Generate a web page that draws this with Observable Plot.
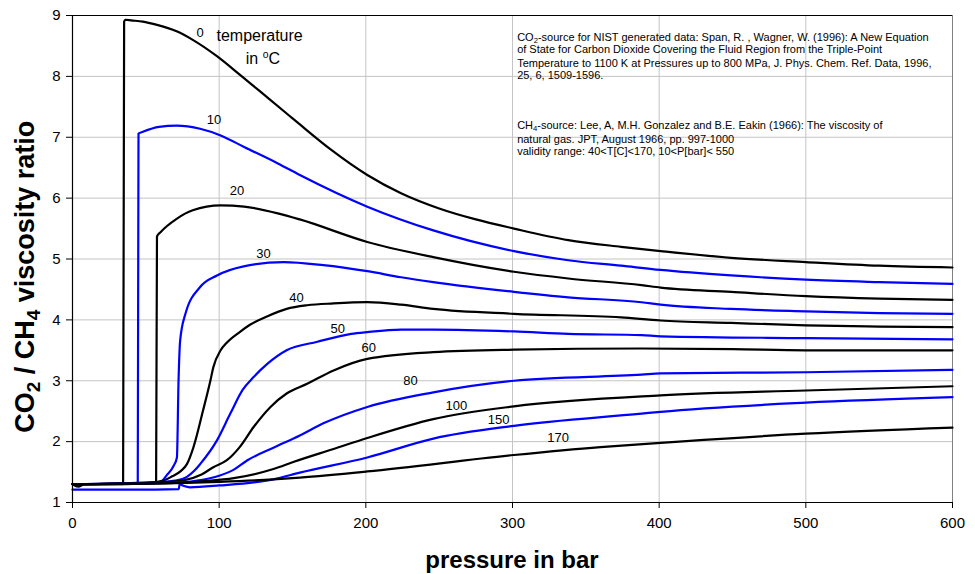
<!DOCTYPE html>
<html>
<head>
<meta charset="utf-8">
<script src="https://cdn.jsdelivr.net/npm/d3@7"></script>
<script src="https://cdn.jsdelivr.net/npm/@observablehq/plot@0.6"></script>
<style>
  html, body { margin: 0; padding: 0; background: #fff; }
  #chart { width: 975px; height: 574px; }
</style>
</head>
<body>
<div id="chart"></div>
<script>
// ---------- data (pressure in bar, CO2/CH4 viscosity ratio) ----------
const pressureTicks = [0, 100, 200, 300, 400, 500, 600];
const ratioTicks = [1, 2, 3, 4, 5, 6, 7, 8, 9];
const temperatures = [0, 10, 20, 30, 40, 50, 60, 80, 100, 150, 170];

const curve_0 = [[0,1.30],[20,1.30],[34.5,1.30],[35.2,8.90],[36,8.93],[40,8.92],[48,8.90],[57,8.85],[71,8.74],[82,8.60],[98,8.34],[114,8.03],[133,7.65],[149,7.33],[155,7.21],[176,6.80],[201,6.38],[224,6.08],[250,5.83],[275,5.65],[301,5.50],[338,5.31],[374,5.20],[401,5.13],[449,5.02],[500,4.95],[550,4.89],[600,4.86]];
const curve_10 = [[0,1.30],[30,1.30],[44.5,1.31],[45,7.06],[48,7.09],[59,7.17],[71,7.19],[87,7.14],[101,7.03],[117,6.84],[140,6.57],[155,6.38],[201,5.86],[246,5.47],[301,5.13],[338,4.98],[374,4.89],[401,4.82],[449,4.73],[500,4.66],[550,4.62],[600,4.59]];
const curve_20 = [[0,1.30],[40,1.31],[57,1.33],[57.6,5.37],[60,5.44],[71,5.66],[82,5.80],[101,5.88],[117,5.86],[140,5.75],[155,5.65],[201,5.28],[246,5.03],[301,4.79],[338,4.68],[388,4.57],[401,4.53],[449,4.46],[500,4.39],[550,4.35],[600,4.33]];
const curve_30 = [[0,1.30],[45,1.31],[60,1.34],[64.3,1.45],[68.9,1.60],[71.2,1.74],[72.3,3.00],[73.4,3.66],[77,4.10],[87,4.54],[98.5,4.73],[116.7,4.88],[144,4.95],[171,4.90],[201,4.80],[224,4.70],[246,4.62],[301,4.46],[338,4.37],[388,4.29],[401,4.25],[449,4.18],[500,4.14],[550,4.11],[600,4.10]];
const curve_40 = [[0,1.30],[50,1.32],[62,1.36],[68,1.43],[74,1.52],[78,1.63],[82.5,1.91],[89,2.51],[94,3.00],[96,3.22],[101,3.50],[105,3.62],[114,3.80],[121,3.92],[133,4.06],[146,4.18],[160,4.24],[178,4.27],[201,4.29],[224,4.25],[246,4.18],[301,4.10],[374,4.04],[401,3.99],[449,3.95],[500,3.91],[550,3.89],[600,3.88]];
const curve_50 = [[0,1.30],[55,1.33],[70,1.36],[78,1.42],[83,1.52],[87,1.63],[98.5,2.02],[107.6,2.46],[116,2.85],[123.5,3.06],[133,3.28],[146,3.50],[167,3.64],[190,3.77],[201,3.80],[224,3.84],[246,3.84],[301,3.81],[338,3.77],[388,3.75],[401,3.73],[500,3.70],[600,3.68]];
const curve_60 = [[0,1.30],[60,1.33],[75,1.36],[88,1.46],[96,1.58],[105,1.69],[114,1.91],[123.5,2.24],[135,2.57],[146,2.79],[160,2.95],[178,3.17],[201,3.36],[246,3.47],[301,3.51],[388,3.53],[450,3.52],[500,3.50],[600,3.50]];
const curve_80 = [[0,1.30],[65,1.32],[85,1.36],[100,1.44],[110,1.54],[119,1.69],[137,1.90],[155,2.10],[171,2.30],[201,2.57],[246,2.81],[301,3.00],[388,3.10],[401,3.12],[500,3.14],[600,3.18]];
const curve_100 = [[0,1.30],[70,1.32],[90,1.35],[110,1.40],[137,1.55],[151,1.67],[178,1.88],[201,2.06],[246,2.37],[301,2.58],[401,2.76],[500,2.84],[600,2.91]];
const curve_150 = [[0,1.21],[40,1.21],[72.5,1.22],[73,1.30],[76,1.27],[80,1.25],[100,1.28],[137,1.38],[155,1.49],[201,1.74],[246,2.05],[301,2.26],[388,2.46],[401,2.49],[500,2.64],[600,2.73]];
const curve_170 = [[0,1.30],[4,1.26],[8,1.30],[50,1.31],[100,1.34],[137,1.38],[155,1.41],[201,1.51],[301,1.78],[360,1.91],[401,1.98],[500,2.13],[600,2.23]];

const curves = [curve_0, curve_10, curve_20, curve_30, curve_40, curve_50, curve_60, curve_80, curve_100, curve_150, curve_170];

// curve label anchors (pressure, ratio)
const labelPressure = [87, 96.4, 112.2, 130.3, 152.7, 180.9, 202, 230.5, 261.7, 290.6, 331.1];
const labelRatio = [8.71, 7.29, 6.12, 5.09, 4.37, 3.86, 3.54, 3.00, 2.58, 2.36, 2.07];

const noteLines = [
  [["CO"], ["2", "sub"], ["-source for NIST generated data: Span, R. , Wagner, W. (1996): A New Equation"]],
  [["of State for Carbon Dioxide Covering the Fluid Region from the Triple-Point"]],
  [["Temperature to 1100 K at Pressures up to 800 MPa, J. Phys. Chem. Ref. Data, 1996,"]],
  [["25, 6, 1509-1596."]],
  [["CH"], ["4", "sub"], ["-source: Lee, A, M.H. Gonzalez and B.E. Eakin (1966): The viscosity of"]],
  [["natural gas. JPT, August 1966, pp. 997-1000"]],
  [["validity range: 40<T[C]<170, 10<P[bar]< 550"]]
];
const noteRatio = [8.58, 8.37, 8.15, 7.945, 7.13, 6.89, 6.70]; // baseline positions
const notePressure = 303.5;

// ---------- chart ----------
const FONT = "'Liberation Sans', Arial, Helvetica, sans-serif";
const BLUE = "#0000ff";
const BLACK = "#000000";

const labelRows = temperatures.map((t, i) => ({t: String(t), p: labelPressure[i], r: labelRatio[i]}));

const plot = Plot.plot({
  width: 975,
  height: 574,
  marginLeft: 72,
  marginRight: 23,
  marginTop: 15,
  marginBottom: 72,
  style: {fontFamily: FONT, background: "#fff", color: "#000", overflow: "visible"},
  x: {domain: [0, 600]},
  y: {domain: [1, 9]},
  marks: [
    Plot.ruleX(pressureTicks, {stroke: "#c4c4c4", strokeWidth: 1}),
    Plot.ruleY(ratioTicks, {stroke: "#c4c4c4", strokeWidth: 1}),
    Plot.ruleX([600], {stroke: "#808080", strokeWidth: 1}),
    Plot.ruleY([9], {stroke: BLACK, strokeWidth: 1}),
    ...curves.map((c, i) => Plot.line(c, {
      x: d => d[0], y: d => d[1],
      stroke: i % 2 ? BLUE : BLACK,
      strokeWidth: 2.2,
      curve: "monotone-x"
    })),
    Plot.ruleX([0], {stroke: BLACK, strokeWidth: 1.2}),
    Plot.ruleY([1], {stroke: BLACK, strokeWidth: 1.2}),
    Plot.axisX({ticks: pressureTicks, tickSize: 6, tickPadding: 9, fontSize: 15, label: null, tickFormat: d => String(d)}),
    Plot.axisY({ticks: ratioTicks, tickSize: 6, tickPadding: 6, fontSize: 15, label: null, tickFormat: d => String(d)}),
    Plot.text(labelRows, {x: "p", y: "r", text: "t", fontSize: 13, fill: BLACK, lineAnchor: "middle"})
  ]
});

document.getElementById("chart").appendChild(plot);

// ---------- rich text (sub/superscripts) positioned through the plot scales ----------
const sx = plot.scale("x"), sy = plot.scale("y");
const svg = d3.select(plot);

function richText(parent, segs, attrs) {
  const t = parent.append("text").attr("text-anchor", "start");
  Object.entries(attrs).forEach(([k, v]) => t.attr(k, v));
  let shifted = 0;
  segs.forEach(([s, kind]) => {
    const ts = t.append("tspan").text(s);
    if (kind === "sub") { ts.attr("font-size", "70%").attr("dy", "0.3em"); shifted = 1; }
    else if (kind === "sup") { ts.attr("font-size", "65%").attr("dy", "-0.55em"); shifted = -1; }
    else if (shifted !== 0) { ts.attr("dy", shifted === 1 ? "-0.21em" : "0.36em"); shifted = 0; }
  });
  return t;
}

const notes = svg.append("g").attr("font-family", FONT).attr("font-size", 11).attr("fill", "#000").attr("text-anchor", "start");
noteLines.forEach((segs, i) => {
  richText(notes, segs, {x: sx.apply(notePressure), y: sy.apply(noteRatio[i])});
});

// "temperature in °C" annotation
const ann = svg.append("g").attr("font-family", FONT).attr("font-size", 16).attr("fill", "#000").attr("text-anchor", "start");
richText(ann, [["temperature"]], {x: sx.apply(98.5), y: sy.apply(8.58)});
richText(ann, [["in "], ["o", "sup"], ["C"]], {x: sx.apply(118.5), y: sy.apply(8.20)});

// axis titles
const titles = svg.append("g").attr("font-family", FONT).attr("font-weight", "bold").attr("fill", "#000");
richText(titles, [["pressure in bar"]], {x: sx.apply(300), y: 568, "text-anchor": "middle", "font-size": 24});
richText(titles, [["CO"], ["2", "sub"], [" / CH"], ["4", "sub"], [" viscosity ratio"]],
  {transform: `translate(34, ${sy.apply(4.7)}) rotate(-90)`, "text-anchor": "middle", "font-size": 27});
</script>
</body>
</html>
